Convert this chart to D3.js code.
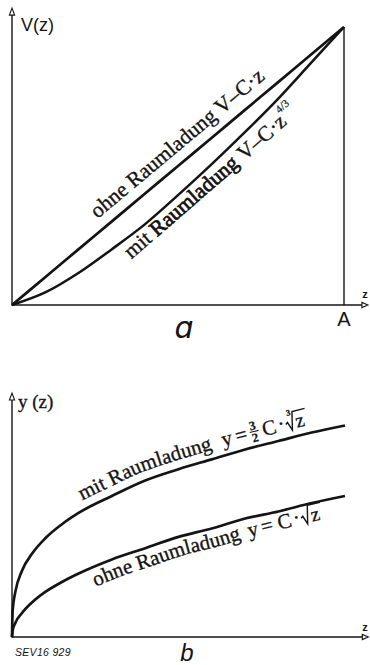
<!DOCTYPE html>
<html><head><meta charset="utf-8">
<script src="https://cdn.jsdelivr.net/npm/d3@7"></script>
<style>html,body{margin:0;padding:0;background:#fff;} svg{display:block;}</style>
</head><body>
<svg id="c" width="370" height="665"></svg>
<script>
// ---------- data (normalised) ----------
// panel a : V(z)
const zA    = [0, 0.1, 0.2, 0.3, 0.4, 0.5, 0.6, 0.7, 0.8, 0.9, 1.0];
const vOhne = [0, 0.1, 0.2, 0.3, 0.4, 0.5, 0.6, 0.7, 0.8, 0.9, 1.0];
const vMit  = [0, 0.045, 0.115, 0.20, 0.29, 0.395, 0.505, 0.62, 0.74, 0.87, 1.0];
// panel b : y(z)
const zB    = [0, 0.002, 0.01, 0.03, 0.06, 0.1, 0.15, 0.2, 0.3, 0.4, 0.5, 0.6, 0.7, 0.8, 0.9, 1.0];
const yMit  = [0, 0.19, 0.32, 0.47, 0.59, 0.70, 0.80, 0.88, 1.00, 1.11, 1.19, 1.26, 1.33, 1.39, 1.45, 1.50];
const yOhne = [0, 0.045, 0.10, 0.17, 0.245, 0.32, 0.39, 0.45, 0.55, 0.63, 0.71, 0.77, 0.84, 0.89, 0.95, 1.00];
// texts
const axisLabelA = "V(z)";
const axisLabelB = "y (z)";
const axisLabelZ = "z";
const markA = "A";
const panelA = "ɑ";
const panelB = "b";
const sevCode = "SEV16 929";
const word = "Raumladung";

// ---------- setup ----------
const ink = "#141414";
const serif = "'Liberation Serif','Times New Roman',serif";
const sans = "'Liberation Sans',Arial,sans-serif";
const svg = d3.select("#c");

const xA = d3.scaleLinear().domain([0, 1]).range([12, 344]);
const yA = d3.scaleLinear().domain([0, 1]).range([305, 27]);
const xB = d3.scaleLinear().domain([0, 1]).range([12, 345]);
const yB = d3.scaleLinear().domain([0, 1]).range([637, 496]);

function axes(g, x, y, xMax, yMax) {
  g.append("line").attr("x1", x(0)).attr("y1", y(0)).attr("x2", x(xMax) - 5).attr("y2", y(0))
    .attr("stroke", ink).attr("stroke-width", 1.4);
  g.append("line").attr("x1", x(0)).attr("y1", y(0) + 0.7).attr("x2", x(0)).attr("y2", y(yMax) + 6)
    .attr("stroke", ink).attr("stroke-width", 1.4);
  const ax = x(xMax), ay = y(0);
  g.append("path").attr("d", `M${ax},${ay} L${ax - 6},${ay - 2.6} L${ax - 6},${ay + 2.6} Z`)
    .attr("fill", "#fff").attr("stroke", ink).attr("stroke-width", 1.1);
  const bx = x(0), by = y(yMax);
  g.append("path").attr("d", `M${bx},${by} L${bx - 2.6},${by + 7} L${bx + 2.6},${by + 7} Z`)
    .attr("fill", "#fff").attr("stroke", ink).attr("stroke-width", 1.1);
}

function offsetPts(pts, d) {
  return pts.map((p, i) => {
    const a = pts[Math.max(0, i - 1)], b = pts[Math.min(pts.length - 1, i + 1)];
    let tx = b[0] - a[0], ty = b[1] - a[1];
    const L = Math.hypot(tx, ty); tx /= L; ty /= L;
    return [p[0] + ty * d, p[1] - tx * d];
  });
}

// ---------- panel a ----------
const gA = svg.append("g");
axes(gA, xA, yA, 1.072, 1.068);
gA.append("line").attr("x1", xA(1)).attr("x2", xA(1)).attr("y1", yA(1)).attr("y2", yA(0))
  .attr("stroke", ink).attr("stroke-width", 1.4);

const lineA = d3.line().x(d => xA(d[0])).y(d => yA(d[1])).curve(d3.curveMonotoneX);
gA.append("path").attr("d", lineA(zA.map((z, i) => [z, vOhne[i]])))
  .attr("fill", "none").attr("stroke", ink).attr("stroke-width", 2.7);
gA.append("path").attr("d", lineA(zA.map((z, i) => [z, vMit[i]])))
  .attr("fill", "none").attr("stroke", ink).attr("stroke-width", 2.5);

// label on the straight line
{
  const ang = Math.atan2(yA(0) - yA(1), xA(1) - xA(0));
  const zz = 0.279;
  const px = xA(zz), py = yA(zz);
  const d = 11;
  const ox = px - Math.sin(ang) * d, oy = py - Math.cos(ang) * d;
  const t = gA.append("text").attr("transform", `translate(${ox},${oy}) rotate(${-ang * 180 / Math.PI})`)
    .attr("font-family", serif).attr("font-size", 21.5).attr("fill", ink)
    .attr("stroke", ink).attr("stroke-width", 0.35);
  t.append("tspan").text("ohne " + word);
  t.append("tspan").attr("dx", 5).text("V–C·z");
}
// label below the curved line
{
  const ang = 41 * Math.PI / 180;
  const interp = d3.scaleLinear().domain(zA).range(vMit);
  const zz = 0.32;
  const px = xA(zz), py = yA(interp(zz));
  const d = 20;
  const ox = px + Math.sin(ang) * d, oy = py + Math.cos(ang) * d;
  const t = gA.append("text").attr("transform", `translate(${ox},${oy}) rotate(${-41})`)
    .attr("font-family", serif).attr("font-size", 21.5).attr("fill", ink)
    .attr("stroke", ink).attr("stroke-width", 0.35);
  t.append("tspan").text("mit ");
  t.append("tspan").attr("stroke-width", 0.75).text(word);
  t.append("tspan").attr("dx", 6).text("V–C·z");
  t.append("tspan").attr("dx", 0).attr("dy", -13).attr("font-size", 11).attr("stroke-width", 0.2).text("4/3");
}
gA.append("text").attr("x", 21).attr("y", 31).attr("font-family", sans).attr("font-size", 18)
  .attr("fill", ink).text(axisLabelA);
gA.append("text").attr("x", 365).attr("y", 298).attr("text-anchor", "middle").attr("font-family", sans)
  .attr("font-weight", "bold").attr("font-size", 11).attr("fill", ink).text(axisLabelZ);
gA.append("text").attr("x", xA(1)).attr("y", 326).attr("text-anchor", "middle").attr("font-family", sans)
  .attr("font-size", 20).attr("fill", ink).text(markA);
gA.append("text").attr("x", 184).attr("y", 338).attr("text-anchor", "middle").attr("font-family", "'DejaVu Sans',sans-serif")
  .attr("font-style", "italic").attr("font-size", 30).attr("fill", ink).text(panelA);

// ---------- panel b ----------
const gB = svg.append("g");
axes(gB, xB, yB, 1.07, 1.73);
const lineB = d3.line().x(d => xB(d[0])).y(d => yB(d[1])).curve(d3.curveMonotoneX);
const ptsMit = zB.map((z, i) => [xB(z), yB(yMit[i])]);
const ptsOhne = zB.map((z, i) => [xB(z), yB(yOhne[i])]);
gB.append("path").attr("d", lineB(zB.map((z, i) => [z, yMit[i]])))
  .attr("fill", "none").attr("stroke", ink).attr("stroke-width", 2.7);
gB.append("path").attr("d", lineB(zB.map((z, i) => [z, yOhne[i]])))
  .attr("fill", "none").attr("stroke", ink).attr("stroke-width", 2.7);

function radical(g, x, w, idx) {
  g.append("path").attr("d", `M${x},${-6} L${x + 2},${-7.5} L${x + 5},${1} L${x + 9},${-17} L${x + 9 + w},${-17}`)
    .attr("fill", "none").attr("stroke", ink).attr("stroke-width", 1.4);
  if (idx) g.append("text").attr("x", x + 3).attr("y", -14).attr("font-family", serif)
    .attr("font-size", 8.5).attr("font-weight", "bold").attr("fill", ink).text(idx);
}

function curveLabel(g, pts, from, d, startOffset, lead, gap, formula, id) {
  const op = offsetPts(pts.slice(from), d);
  const path = g.append("path").attr("id", id).attr("fill", "none")
    .attr("d", d3.line().curve(d3.curveCatmullRom)(op));
  const t = g.append("text").attr("font-family", serif).attr("font-size", 21).attr("fill", ink)
    .attr("stroke", ink).attr("stroke-width", 0.35);
  t.append("textPath").attr("href", "#" + id).attr("startOffset", startOffset).text(lead);
  const len = t.node().getComputedTextLength();
  const node = path.node();
  const L = startOffset + len + gap;
  const p = node.getPointAtLength(L);
  const p1 = node.getPointAtLength(L + 25), p2 = node.getPointAtLength(L + 60);
  const ang = Math.atan2(p2.y - p1.y, p2.x - p1.x) * 180 / Math.PI;
  const fg = g.append("g").attr("transform", `translate(${p.x},${p.y}) rotate(${ang})`)
    .attr("font-family", serif).attr("fill", ink).attr("stroke", ink).attr("stroke-width", 0.3);
  formula(fg);
}

curveLabel(gB, ptsMit, 6, 9, 30, "mit " + word, 11, fg => {
  fg.append("text").attr("x", 0).attr("font-size", 21).text("y");
  fg.append("text").attr("x", 14).attr("font-size", 21).text("=");
  fg.append("text").attr("x", 30).attr("y", -9).attr("font-size", 12.5).attr("font-weight", "bold").text("3");
  fg.append("line").attr("x1", 29).attr("x2", 38).attr("y1", -7).attr("y2", -7).attr("stroke", ink).attr("stroke-width", 1.1);
  fg.append("text").attr("x", 30).attr("y", 3.5).attr("font-size", 12.5).attr("font-weight", "bold").text("2");
  fg.append("text").attr("x", 42).attr("font-size", 21).text("C");
  fg.append("text").attr("x", 58).attr("y", -1).attr("font-size", 21).text("·");
  radical(fg, 66, 13, "3");
  fg.append("text").attr("x", 76).attr("font-size", 20).text("z");
}, "pm");

curveLabel(gB, ptsOhne, 6, -19, 28, "ohne " + word, 8, fg => {
  fg.append("text").attr("x", 0).attr("font-size", 21).text("y");
  fg.append("text").attr("x", 14).attr("font-size", 21).text("=");
  fg.append("text").attr("x", 31).attr("font-size", 21).text("C");
  fg.append("text").attr("x", 47).attr("y", -1).attr("font-size", 21).text("·");
  radical(fg, 55, 13, null);
  fg.append("text").attr("x", 65).attr("font-size", 20).text("z");
}, "po");

gB.append("text").attr("x", 18).attr("y", 408).attr("font-family", serif).attr("font-size", 19)
  .attr("fill", ink).attr("stroke", ink).attr("stroke-width", 0.3).text(axisLabelB);
gB.append("text").attr("x", 365).attr("y", 631).attr("text-anchor", "middle").attr("font-family", sans)
  .attr("font-weight", "bold").attr("font-size", 11).attr("fill", ink).text(axisLabelZ);
gB.append("text").attr("x", 187).attr("y", 661).attr("text-anchor", "middle").attr("font-family", sans)
  .attr("font-style", "italic").attr("font-size", 24).attr("fill", ink).text(panelB);
gB.append("text").attr("x", 15).attr("y", 656).attr("font-family", sans).attr("font-style", "italic")
  .attr("font-size", 10.5).attr("letter-spacing", 0.3).attr("fill", ink).text(sevCode);
</script>
</body></html>
